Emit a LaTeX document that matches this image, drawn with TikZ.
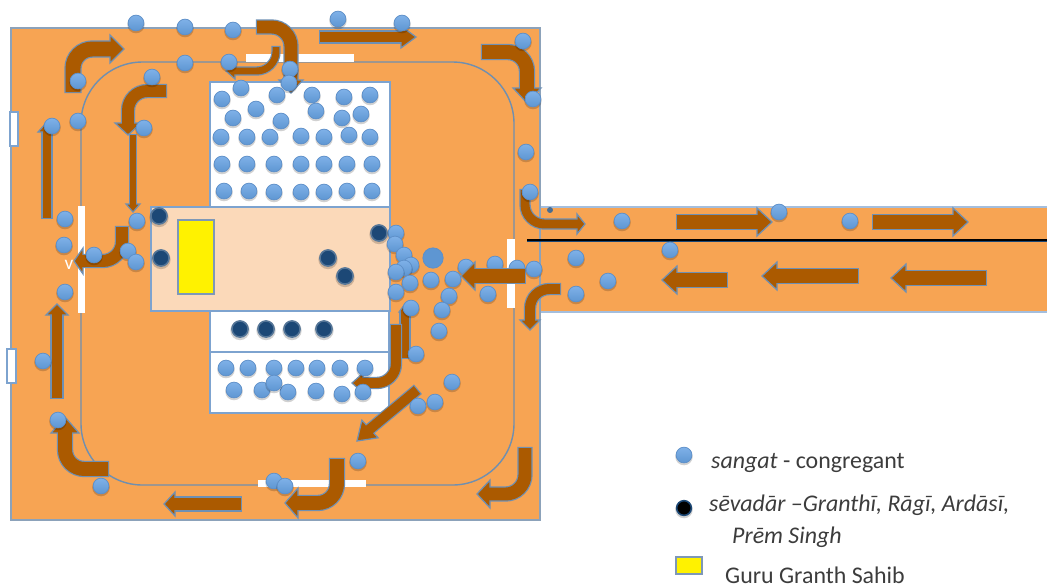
\documentclass[tikz,border=0pt]{standalone}
\usepackage{fontspec}
\setmainfont{Carlito}
\usetikzlibrary{calc}
\definecolor{ground}{HTML}{F7A453}
\definecolor{wall}{HTML}{8CA2BA}
\definecolor{ringline}{HTML}{6F8FB0}
\definecolor{blockline}{HTML}{7DA3CF}
\definecolor{peach}{HTML}{FBD9B9}
\definecolor{flowbrown}{HTML}{AB5A00}
\definecolor{flowedge}{HTML}{6E90B4}
\definecolor{dotlight}{HTML}{7FB1E8}
\definecolor{dotdark}{HTML}{5E96D2}
\definecolor{dotline}{HTML}{5D8FC8}
\definecolor{sevablue}{HTML}{1C4876}
\definecolor{textgrey}{HTML}{3C3C3C}
\newcommand{\pxpt}{0.5669}
% shaft width, head half width, shaft points, head base, head tip
\newcommand{\flow}[5]{%
  \draw[flowedge, line width={(#1+2.4)*\pxpt pt}, rounded corners=11pt, shorten <=-.7pt] #3 -- #4;
  \filldraw[fill=flowbrown, draw=flowedge, line width=.7pt, line join=miter]
    ($#4!{#2*\pxpt pt}!90:#5$) -- #5 -- ($#4!{#2*\pxpt pt}!-90:#5$) -- cycle;
  \draw[flowbrown, line width={#1*\pxpt pt}, rounded corners=11pt, shorten >=-1pt] #3 -- #4;}
\newcommand{\sgdot}[2]{%
  \fill[black, opacity=.18] (#1,#2+1.5) circle (5pt);
  \path[draw=dotline, line width=.4pt, top color=dotlight, bottom color=dotdark] (#1,#2) circle (4.5pt);}
\newcommand{\svdot}[2]{%
  \fill[black, opacity=.18] (#1,#2+1.5) circle (5.5pt);
  \draw[sevablue, line width=.9pt, fill=sevablue, draw=sevablue!75!white] (#1,#2) circle (4.6pt);}

\begin{document}
\begin{tikzpicture}[x=0.02cm, y=-0.02cm,
  door/.style={fill=white},
  block/.style={draw=blockline, line width=.9pt, fill=white},
  legendtext/.style={anchor=base west, text=textgrey, font=\fontsize{13.6pt}{15pt}\selectfont}]
\useasboundingbox (0,0) rectangle (1047,586);

% ================= ground =================
\fill[ground] (540,207) rectangle (1047,312);
\draw[blockline!70!white, line width=1pt] (540,207) -- (1047,207) (540,312) -- (1047,312);
\draw[wall, line width=1.1pt, fill=ground] (11,28) rectangle (540,520);
\draw[ringline, line width=.8pt, rounded corners=35pt] (81,62) rectangle (514,485);

% doors in the ring and the outer wall
\fill[door] (78,206) rectangle (85,313);
\fill[door] (246,54) rectangle (354,62);
\fill[door] (258,480) rectangle (366,487);
\fill[door] (507,239) rectangle (515,308);
\draw[blockline, line width=.7pt, fill=white] (10,112) rectangle (18,146);
\draw[blockline, line width=.7pt, fill=white] (7,349) rectangle (16,383);
\node (doormark) [white, font=\fontsize{11pt}{12pt}\selectfont] at (69,265) {v};

% ================= the hall =================
\draw[block, fill=peach] (151,207) rectangle (390,311);
\draw[block] (210,82) rectangle (390,207);
\draw[block] (210,311) rectangle (389,352);
\draw[block] (210,352) rectangle (389,413);
\draw[blockline!70!gray, line width=.8pt, fill=yellow] (178,220) rectangle (214,294);

% dots that the flow passes over
\foreach \x/\y in {466/267, 495/264, 517/268}
  {\sgdot{\x}{\y}}

% ================= flow arrows =================
\flow{11}{11}{(320,37)}{(401,37)}{(416,37)}
\flow{9}{9}{(47,218)}{(47,132)}{(47,122)}
\flow{6}{7}{(133,135)}{(133,204)}{(133,212)}
\flow{11}{11}{(57,398)}{(57,315)}{(57,304)}
\flow{13}{12}{(241,504)}{(175,504)}{(164,504)}
\flow{10}{12}{(417,390)}{(370,429)}{(357,441)}
\flow{14}{14}{(677,222)}{(757,222)}{(772,222)}
\flow{14}{14}{(873,222)}{(953,222)}{(968,222)}
\flow{14}{14}{(727,280)}{(677,280)}{(662,280)}
\flow{14}{14}{(858,276)}{(777,276)}{(762,276)}
\flow{14}{14}{(986,278)}{(906,278)}{(891,278)}
\flow{14}{14}{(525,276)}{(475,276)}{(461,276)}
\flow{9}{6}{(405,358)}{(405,312)}{(405,304)}
\flow{15}{14}{(73,92) -- (73,49)}{(110,49)}{(124,49)}
\flow{13}{12}{(257,27) -- (291,27)}{(291,80)}{(291,93)}
\flow{7}{8}{(276,47) -- (276,71)}{(235,71)}{(226,71)}
\flow{12}{13}{(166,91) -- (128,91)}{(128,123)}{(128,135)}
\flow{14}{14}{(482,52) -- (527,52)}{(527,88)}{(527,103)}
\flow{12}{13}{(122,227) -- (122,261)}{(83,261)}{(74,261)}
\flow{14}{14}{(108,469) -- (65,469)}{(65,433)}{(65,417)}
\flow{14}{15}{(337,459) -- (337,503)}{(298,503)}{(285,503)}
\flow{13}{14}{(525,448) -- (525,494)}{(490,494)}{(477,494)}
\flow{10}{10}{(396,325) -- (396,383)}{(363,383)}{(352,383)}
\flow{9}{10}{(525,190) -- (525,224)}{(577,224)}{(585,224)}
\flow{10}{10}{(560,289) -- (530,289)}{(530,320)}{(530,330)}

% the dividing line of the road
\draw[sevablue, line width=2.2pt] (527,240.5) -- (1047,240.5);
\draw[black, line width=1.1pt] (527,240) -- (1047,240);

% ================= sangat =================
% round the hall, outside
\foreach \x/\y in {136/23, 185/27, 233/30, 338/19, 402/23, 523/41, 533/99, 185/63, 229/62,
    290/69, 289/83, 78/81, 152/77, 78/121, 52/126, 144/128, 526/152, 530/192,
    65/219, 64/245, 65/292, 137/221, 128/251, 136/262, 94/255, 43/361, 58/420, 101/486,
    274/481, 285/486, 358/461}
  {\sgdot{\x}{\y}}
% upper block
\foreach \x/\y in {241/88, 222/99, 277/95, 312/95, 344/97, 370/95,
    233/118, 256/109, 281/121, 316/111, 342/118, 361/114,
    221/137, 247/137, 270/137, 301/136, 324/137, 349/135, 370/137,
    222/164, 247/164, 274/164, 301/164, 324/164, 347/164, 372/164,
    224/191, 249/191, 274/192, 301/192, 324/192, 347/191, 372/191}
  {\sgdot{\x}{\y}}
% lower block
\foreach \x/\y in {226/368, 248/368, 274/368, 296/368, 317/368, 340/368, 365/368,
    234/390, 262/390, 288/392, 316/391, 342/394, 363/392, 274/383}
  {\sgdot{\x}{\y}}
% the crowd at the door
\foreach \x/\y in {396/233, 395/244, 404/255, 411/265, 404/268, 396/272, 410/283, 396/292, 411/308,
    431/280, 453/279, 534/269, 449/296, 442/310, 439/331, 488/294, 416/354, 452/382, 435/402, 418/406}
  {\sgdot{\x}{\y}}
\fill[dotdark, draw=dotline, line width=.4pt] (433,258) circle (5.8pt);
% on the road
\foreach \x/\y in {576/258, 608/281, 576/294, 622/221, 779/212, 850/221, 670/250}
  {\sgdot{\x}{\y}}
\fill[sevablue!80!white] (550,210) circle (1.7pt);

% ================= sevadar =================
\foreach \x/\y in {159/216, 161/258, 379/233, 328/258, 345/276, 240/329, 266/329, 292/329, 324/329}
  {\svdot{\x}{\y}}

% ================= legend =================
\sgdot{684}{455}
\fill[black, opacity=.18] (684,509.5) circle (5pt);
\draw[fill=black, draw=sevablue, line width=.9pt] (684,508) circle (4.2pt);
\draw[blockline!70!gray, line width=.8pt, fill=yellow] (676,557) rectangle (702,574);
\node (sangatlabel) [legendtext] at (705,468) {\textit{sangat} - congregant};
\node (sevalabel) [legendtext] at (703,511) {\textit{sēvadār –Granthī, Rāgī, Ardāsī,}};
\node (premlabel) [legendtext] at (726,543) {\textit{Prēm Singh}};
\node (gurulabel) [legendtext] at (719,583) {Guru Granth Sahib};

\end{tikzpicture}
\end{document}
